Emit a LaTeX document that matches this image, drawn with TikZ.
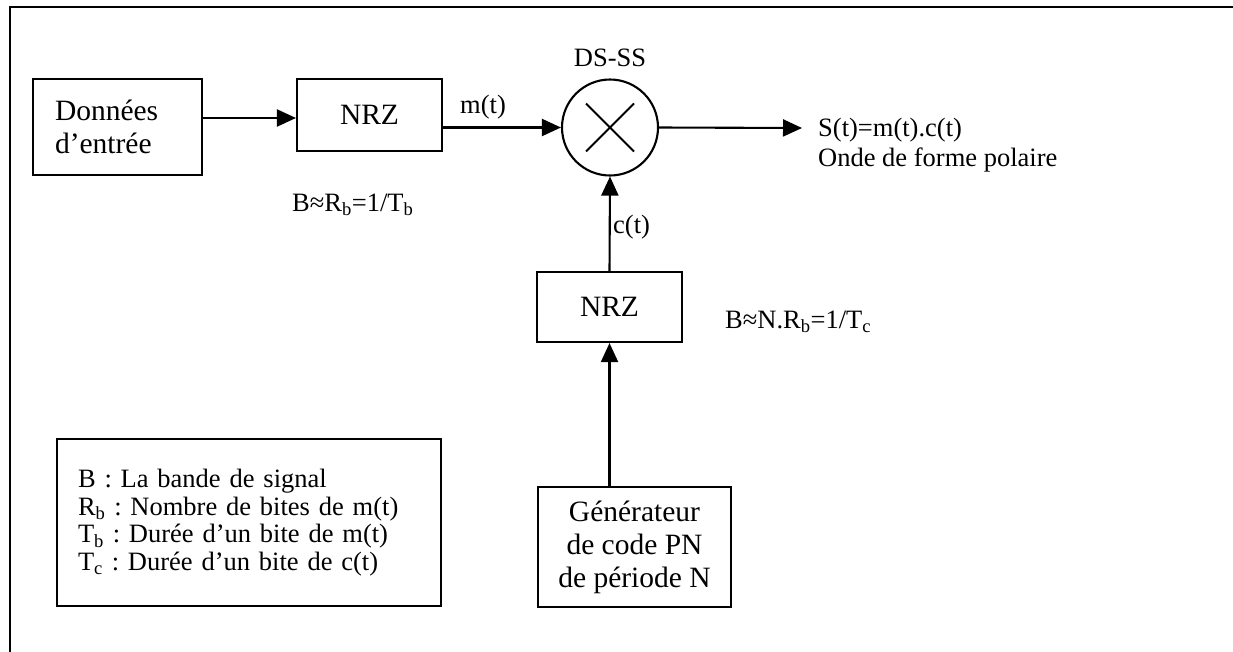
\documentclass[tikz,border=0pt]{standalone}
\usepackage{fontspec}
\setmainfont{Liberation Serif}
\usetikzlibrary{arrows.meta,calc}
\frenchspacing
\begin{document}
\begin{tikzpicture}[x=1pt,y=-1pt,
  blk/.style={draw, line width=2.1pt, inner sep=0pt,
    font=\fontsize{29.5}{33}\selectfont, align=center},
  lbl/.style={inner sep=0pt, font=\fontsize{26.5}{30}\selectfont},
  arr/.style={line width=2.1pt, -{Triangle[length=19pt,width=17pt]}},
]
\useasboundingbox (0,0) rectangle (1233,651);
% outer frame (open to the right and bottom)
\draw[line width=2.5pt] (10,670) -- (10,7) -- (1250,7);

% blocks
\node[blk, minimum width=169pt, minimum height=96pt, text width=125pt, align=left]
  (don) at (117.5,127) {Données\\d’entrée};
\node[blk, minimum width=145pt, minimum height=72pt] (nrza) at (369.5,115) {NRZ};
\node[draw, circle, line width=2.1pt, minimum size=96pt, inner sep=0pt] (mix) at (610,127.5) {};
\draw[line width=1.8pt] ($(mix.center)+(-24,-24)$) -- ($(mix.center)+(24,24)$)
                        ($(mix.center)+(-24,24)$) -- ($(mix.center)+(24,-24)$);
\node[blk, minimum width=145pt, minimum height=70pt] (nrzb) at (609.5,307) {NRZ};
\node[blk, minimum width=193pt, minimum height=120pt] (gen) at (634.5,547)
  {Générateur\\de code PN\\de période N};
\node[blk, minimum width=384pt, minimum height=167pt, text width=342pt, align=left,
  font=\fontsize{26.5}{27.7}\selectfont] (leg) at (249,522.5)
  {B : La bande de signal\\
   R\textsubscript{b} : Nombre de bites de m(t)\\
   T\textsubscript{b} : Durée d’un bite de m(t)\\
   T\textsubscript{c} : Durée d’un bite de c(t)};
\coordinate (out) at (802,128);

% connectors
\draw[arr] (don.east |- 0,118) -- (nrza.west |- 0,118);
\draw[arr] (nrza.east |- mix) -- (mix.west);
\draw[arr] (mix.east) -- (out);
\draw[arr] (nrzb.north) -- (mix.south);
\draw[arr] (gen.north -| nrzb) -- (nrzb.south);

% labels
\node[lbl] (ds) at (610,58) {DS-SS};
\node[lbl] (mt) at (483,107) {m(t)};
\node[lbl, anchor=west] (ct) at (613,227) {c(t)};
\node[lbl, anchor=west, align=left] (st) at (818,145)
  {S(t)=m(t).c(t)\\Onde de forme polaire};
\node[lbl, anchor=west] (ba) at (292,205) {B≈R\textsubscript{b}=1/T\textsubscript{b}};
\node[lbl, anchor=west] (bb) at (725,322) {B≈N.R\textsubscript{b}=1/T\textsubscript{c}};
\end{tikzpicture}
\end{document}
